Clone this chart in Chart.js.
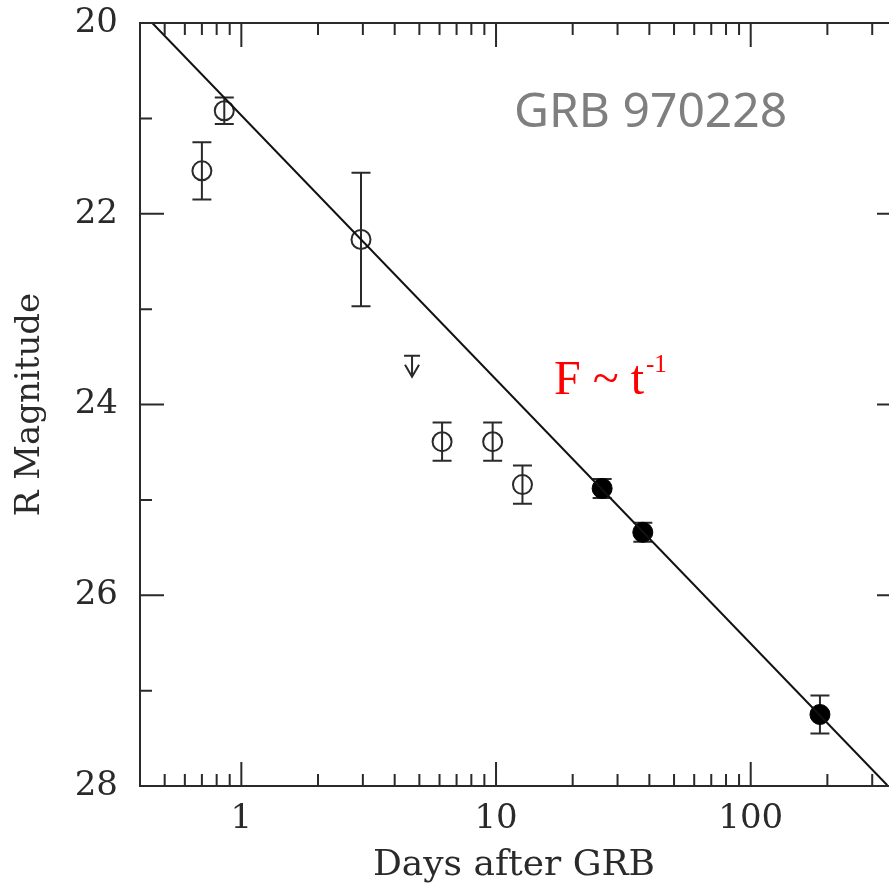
<!DOCTYPE html>
<html>
<head>
<meta charset="utf-8">
<script src="https://cdn.jsdelivr.net/npm/chart.js@4/dist/chart.umd.min.js"></script>
<style>html,body{margin:0;padding:0;overflow:hidden;background:#fff}</style>
</head>
<body>
<canvas id="c" width="889" height="888"></canvas>
<script>
// open circles: early afterglow points
const openX = [0.70, 0.857, 2.95, 6.14, 9.70, 12.7];
const openY = [21.55, 20.92, 22.27, 24.39, 24.39, 24.84];
const openErr = [0.30, 0.14, 0.70, 0.20, 0.20, 0.20];
// filled circles: HST points
const filledX = [26.1, 37.7, 187];
const filledY = [24.88, 25.34, 27.25];
const filledErr = [0.10, 0.10, 0.20];
// upper limit
const limitX = [4.68];
const limitY = [23.49];
// power-law fit line, where it crosses the frame
const fitX = [0.447, 346];
const fitY = [20, 28];

const xTicks = [1, 10, 100];
const xMinor = [0.5, 0.6, 0.7, 0.8, 0.9, 2, 3, 4, 5, 6, 7, 8, 9, 20, 30, 40, 50, 60, 70, 80, 90, 200, 300];
const yTicks = [20, 22, 24, 26, 28];
const yMinor = [21, 23, 25, 27];

const INK = "#2a2a2a";
const SERIF = "'DejaVu Serif', serif";
const CUT = 13; // the frame's right edge lies just past the picture

const decor = {
    id: "decor",
    beforeDatasetsDraw(chart) {
        const { ctx, scales: { x, y } } = chart;
        ctx.save();
        ctx.strokeStyle = INK;
        ctx.lineWidth = 2;
        const bars = (xs, ys, es) => xs.forEach((v, i) => {
            const px = x.getPixelForValue(v);
            const top = y.getPixelForValue(ys[i] - es[i]);
            const bot = y.getPixelForValue(ys[i] + es[i]);
            ctx.beginPath();
            ctx.moveTo(px, top); ctx.lineTo(px, bot);
            ctx.moveTo(px - 9.5, top); ctx.lineTo(px + 9.5, top);
            ctx.moveTo(px - 9.5, bot); ctx.lineTo(px + 9.5, bot);
            ctx.stroke();
        });
        bars(openX, openY, openErr);
        bars(filledX, filledY, filledErr);
        limitX.forEach((v, i) => {
            const px = x.getPixelForValue(v), py = y.getPixelForValue(limitY[i]);
            ctx.beginPath();
            ctx.moveTo(px - 8, py); ctx.lineTo(px + 8, py);
            ctx.moveTo(px, py); ctx.lineTo(px, py + 21);
            ctx.moveTo(px - 7, py + 9); ctx.lineTo(px, py + 21); ctx.lineTo(px + 7, py + 9);
            ctx.stroke();
        });
        ctx.restore();
    },
    afterDraw(chart) {
        const { ctx, chartArea: a, scales: { x, y } } = chart;
        const right = a.right + CUT;
        ctx.save();
        ctx.strokeStyle = INK;
        ctx.lineWidth = 2;
        ctx.beginPath();
        ctx.moveTo(right, a.top); ctx.lineTo(a.left, a.top);
        ctx.lineTo(a.left, a.bottom); ctx.lineTo(right, a.bottom);
        const xt = (v, len) => {
            const p = x.getPixelForValue(v);
            ctx.moveTo(p, a.bottom); ctx.lineTo(p, a.bottom - len);
            ctx.moveTo(p, a.top); ctx.lineTo(p, a.top + len);
        };
        const yt = (v, len) => {
            const p = y.getPixelForValue(v);
            ctx.moveTo(a.left, p); ctx.lineTo(a.left + len, p);
            ctx.moveTo(right, p); ctx.lineTo(right - len, p);
        };
        xTicks.forEach(v => xt(v, 24));
        xMinor.forEach(v => xt(v, 12));
        yTicks.forEach(v => yt(v, 24));
        yMinor.forEach(v => yt(v, 12));
        ctx.stroke();

        // annotations
        ctx.textBaseline = "alphabetic";
        ctx.textAlign = "left";
        ctx.fillStyle = "#7f7f7f";
        ctx.font = "48px 'Noto Sans', sans-serif";
        ctx.fillText("GRB 970228", 514, 127);
        ctx.fillStyle = "#ff0000";
        ctx.font = "48px 'Liberation Serif', serif";
        ctx.fillText("F ~ t", 554, 394);
        const w = ctx.measureText("F ~ t").width;
        ctx.font = "25px 'Liberation Serif', serif";
        ctx.fillText("-1", 554 + w + 2, 372);
        ctx.restore();
    },
};

new Chart(document.getElementById("c"), {
    type: "scatter",
    data: {
        datasets: [
            {
                data: fitX.map((v, i) => ({ x: v, y: fitY[i] })),
                showLine: true, borderColor: "#111", borderWidth: 2,
                pointRadius: 0,
            },
            {
                data: openX.map((v, i) => ({ x: v, y: openY[i] })),
                pointRadius: 9.5, borderColor: INK, borderWidth: 2,
                backgroundColor: "rgba(0,0,0,0)",
            },
            {
                data: filledX.map((v, i) => ({ x: v, y: filledY[i] })),
                pointRadius: 10, borderColor: "#000", borderWidth: 1,
                backgroundColor: "#000",
            },
        ],
    },
    options: {
        responsive: false, animation: false,
        layout: { autoPadding: false, padding: { top: 23, right: 1, left: 0, bottom: 0 } },
        plugins: { legend: { display: false }, tooltip: { enabled: false } },
        scales: {
            x: {
                type: "logarithmic", min: 0.4, max: 346,
                grid: { display: false, drawTicks: false },
                border: { display: false },
                afterBuildTicks: s => { s.ticks = xTicks.map(v => ({ value: v })); },
                afterFit: s => { s.height = 102; s.paddingLeft = 0; s.paddingRight = 0; },
                ticks: {
                    callback: v => String(v), padding: 13, maxRotation: 0,
                    color: INK, font: { family: SERIF, size: 34 },
                },
                title: {
                    display: true, text: "Days after GRB", color: INK,
                    font: { family: SERIF, size: 36 }, padding: { top: 0, bottom: 1 },
                },
            },
            y: {
                min: 20, max: 28, reverse: true,
                grid: { display: false, drawTicks: false },
                border: { display: false },
                afterBuildTicks: s => { s.ticks = yTicks.map(v => ({ value: v })); },
                afterFit: s => { s.width = 140; s.paddingTop = 0; s.paddingBottom = 0; },
                ticks: {
                    padding: 22, color: INK, font: { family: SERIF, size: 34 },
                },
                title: {
                    display: true, text: "R Magnitude", color: INK,
                    font: { family: SERIF, size: 34 }, padding: { top: 10, bottom: 0 },
                },
            },
        },
    },
    plugins: [decor],
});
</script>
</body>
</html>
